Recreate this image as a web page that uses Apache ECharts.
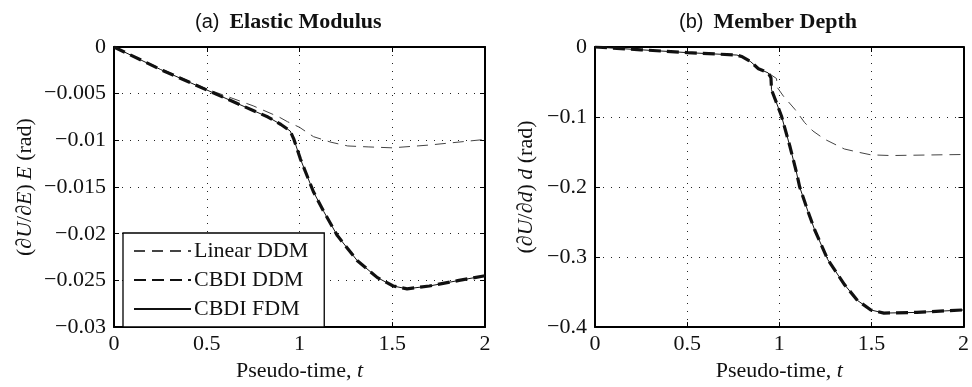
<!DOCTYPE html>
<html>
<head>
<meta charset="utf-8">
<script src="https://cdn.jsdelivr.net/npm/echarts@6/dist/echarts.min.js"></script>
<style>
  html, body { margin: 0; padding: 0; background: #fff; }
  #chart { width: 972px; height: 387px; }
</style>
</head>
<body>
<div id="chart"></div>
<script>
// (a) elastic modulus sensitivity, [t, value]
const elasticLinear = [
  [0, 0], [0.25, -0.0023], [0.5, -0.0045], [0.75, -0.0063], [0.89, -0.0075],
  [0.935, -0.0080], [1.0, -0.0086], [1.075, -0.0096], [1.17, -0.0102],
  [1.26, -0.0106], [1.37, -0.0107], [1.5, -0.0108], [1.7, -0.0105], [2.0, -0.0099]
]
const elasticCbdiDdm = [
  [0, 0], [0.25, -0.0024], [0.5, -0.0046], [0.75, -0.0068], [0.83, -0.0075],
  [0.9, -0.0083], [0.95, -0.0090], [0.97, -0.0099], [1.005, -0.0120],
  [1.075, -0.0155], [1.13, -0.0176], [1.204, -0.0202], [1.312, -0.0229],
  [1.42, -0.0247], [1.505, -0.0256], [1.58, -0.0259], [1.7, -0.0256],
  [1.86, -0.0250], [2.0, -0.0245]
]
const elasticCbdiFdm = [
  [0, 0], [0.25, -0.0024], [0.5, -0.0046], [0.75, -0.0068], [0.83, -0.0075],
  [0.9, -0.0083], [0.95, -0.0090], [0.97, -0.0099], [1.005, -0.0120],
  [1.075, -0.0155], [1.13, -0.0176], [1.204, -0.0202], [1.312, -0.0229],
  [1.42, -0.0247], [1.505, -0.0256], [1.58, -0.0259], [1.7, -0.0256],
  [1.86, -0.0250], [2.0, -0.0245]
]

// (b) member depth sensitivity
const depthLinear = [
  [0, 0], [0.25, -0.004], [0.5, -0.008], [0.77, -0.0115], [0.8, -0.014],
  [0.845, -0.021], [0.887, -0.031], [0.94, -0.037], [0.985, -0.045],
  [0.99, -0.058], [1.022, -0.070], [1.085, -0.089], [1.138, -0.108],
  [1.183, -0.120], [1.245, -0.1315], [1.353, -0.1456], [1.425, -0.150],
  [1.497, -0.154], [1.605, -0.155], [2.0, -0.1535]
]
const depthCbdiDdm = [
  [0, 0], [0.25, -0.004], [0.5, -0.008], [0.77, -0.0115], [0.8, -0.014],
  [0.845, -0.021], [0.887, -0.031], [0.94, -0.037], [0.955, -0.044],
  [0.958, -0.061], [1.012, -0.0985], [1.057, -0.141], [1.093, -0.1785],
  [1.111, -0.200], [1.156, -0.235], [1.192, -0.261], [1.263, -0.3035],
  [1.353, -0.339], [1.425, -0.362], [1.497, -0.3755], [1.568, -0.380],
  [1.747, -0.379], [2.0, -0.3755]
]
const depthCbdiFdm = [
  [0, 0], [0.25, -0.004], [0.5, -0.008], [0.77, -0.0115], [0.8, -0.014],
  [0.845, -0.021], [0.887, -0.031], [0.94, -0.037], [0.955, -0.044],
  [0.958, -0.061], [1.012, -0.0985], [1.057, -0.141], [1.093, -0.1785],
  [1.111, -0.200], [1.156, -0.235], [1.192, -0.261], [1.263, -0.3035],
  [1.353, -0.339], [1.425, -0.362], [1.497, -0.3755], [1.568, -0.380],
  [1.747, -0.379], [2.0, -0.3755]
]

const seriesNames = ['Linear DDM', 'CBDI DDM', 'CBDI FDM']
const titles = ['(a)', '(b)']
const titleWords = ['Elastic Modulus', 'Member Depth']

const serif = 'Liberation Serif'
const fmt = v => {
  const s = String(parseFloat(v.toFixed(4)))
  return s.replace('-', '\u2212')
}

const chart = echarts.init(document.getElementById('chart'))

const grids = [
  { left: 114, top: 47, width: 371, height: 283 },
  { left: 595, top: 47, width: 372, height: 283 }
]

const axisTick = { show: true, inside: true, length: 5, lineStyle: { color: '#000', width: 1 } }
const splitLine = { show: true, lineStyle: { color: '#222', width: 1, type: [1, 7] } }
const axisLine = { show: true, onZero: false, lineStyle: { color: '#000', width: 2 } }

const xAxes = []
const yAxes = []
const yRanges = [[-0.03, 0, 0.005], [-0.4, 0, 0.1]]
const yNames = [
  '(\u2202{i|U}/\u2202{i|E})\u2009{i|E} (rad)',
  '(\u2202{i|U}/\u2202{i|d})\u2009{i|d} (rad)'
]

for (let g = 0; g < 2; g++) {
  xAxes.push({
    gridIndex: g, type: 'value', min: 0, max: 2, interval: 0.5,
    position: 'bottom',
    axisLine, axisTick, splitLine,
    axisLabel: { color: '#111', fontFamily: serif, fontSize: 22, margin: 6, formatter: fmt },
    name: 'Pseudo-time, {i|t}', nameLocation: 'middle', nameGap: 31,
    nameTextStyle: {
      color: '#111', fontFamily: serif, fontSize: 22,
      rich: { i: { fontStyle: 'italic', fontFamily: serif, fontSize: 22, color: '#111' } }
    }
  })
  xAxes.push({
    gridIndex: g, type: 'value', min: 0, max: 2, interval: 0.5,
    position: 'top', axisLine, axisTick,
    splitLine: { show: false }, axisLabel: { show: false }
  })
  const [ymin, ymax, yint] = yRanges[g]
  yAxes.push({
    gridIndex: g, type: 'value', min: ymin, max: ymax, interval: yint,
    position: 'left',
    axisLine, axisTick, splitLine,
    axisLabel: { color: '#111', fontFamily: serif, fontSize: 22, margin: 8, formatter: fmt },
    name: yNames[g], nameLocation: 'middle', nameRotate: 90,
    nameGap: g === 0 ? 78 : 58,
    nameTextStyle: {
      color: '#111', fontFamily: serif, fontSize: 22,
      rich: { i: { fontStyle: 'italic', fontFamily: serif, fontSize: 22, color: '#111' } }
    }
  })
  yAxes.push({
    gridIndex: g, type: 'value', min: ymin, max: ymax, interval: yint,
    position: 'right', axisLine, axisTick,
    splitLine: { show: false }, axisLabel: { show: false }
  })
}

const dataSets = [
  [elasticLinear, elasticCbdiDdm, elasticCbdiFdm],
  [depthLinear, depthCbdiDdm, depthCbdiFdm]
]
const styles = [
  { color: '#444', width: 1, type: [11, 7] },
  { color: '#111', width: 3.2, type: [12, 6] },
  { color: '#111', width: 1, type: 'solid' }
]

const series = []
for (let g = 0; g < 2; g++) {
  for (let s = 0; s < 3; s++) {
    series.push({
      name: seriesNames[s],
      type: 'line',
      xAxisIndex: g * 2,
      yAxisIndex: g * 2,
      data: dataSets[g][s],
      symbol: 'none',
      color: styles[s].color,
      lineStyle: styles[s],
      z: 3 + s
    })
  }
}

chart.setOption({
  animation: false,
  backgroundColor: '#fff',
  title: [
    { text: '{s|' + titles[0] + '}  {b|' + titleWords[0] + '}', left: 190, top: 6 },
    { text: '{s|' + titles[1] + '}  {b|' + titleWords[1] + '}', left: 674, top: 6 }
  ].map(t => ({
    ...t,
    textStyle: {
      fontWeight: 'normal',
      rich: {
        s: { fontFamily: 'Liberation Sans', fontWeight: 'normal', fontSize: 20, color: '#111' },
        b: { fontFamily: serif, fontWeight: 'bold', fontSize: 22, color: '#111' }
      }
    }
  })),
  grid: grids,
  legend: {
    data: seriesNames,
    orient: 'vertical',
    left: 123,
    top: 233,
    itemWidth: 57,
    itemHeight: 16,
    itemGap: 7,
    padding: [7, 16, 7, 10],
    backgroundColor: '#fff',
    borderColor: '#000',
    borderWidth: 1.3,
    borderRadius: 0,
    itemStyle: { opacity: 0, borderWidth: 0 },
    lineStyle: { opacity: 1 },
    textStyle: { fontFamily: serif, fontSize: 22, color: '#111', padding: [0, 0, 0, -2] }
  },
  xAxis: xAxes,
  yAxis: yAxes,
  series
})
</script>
</body>
</html>
